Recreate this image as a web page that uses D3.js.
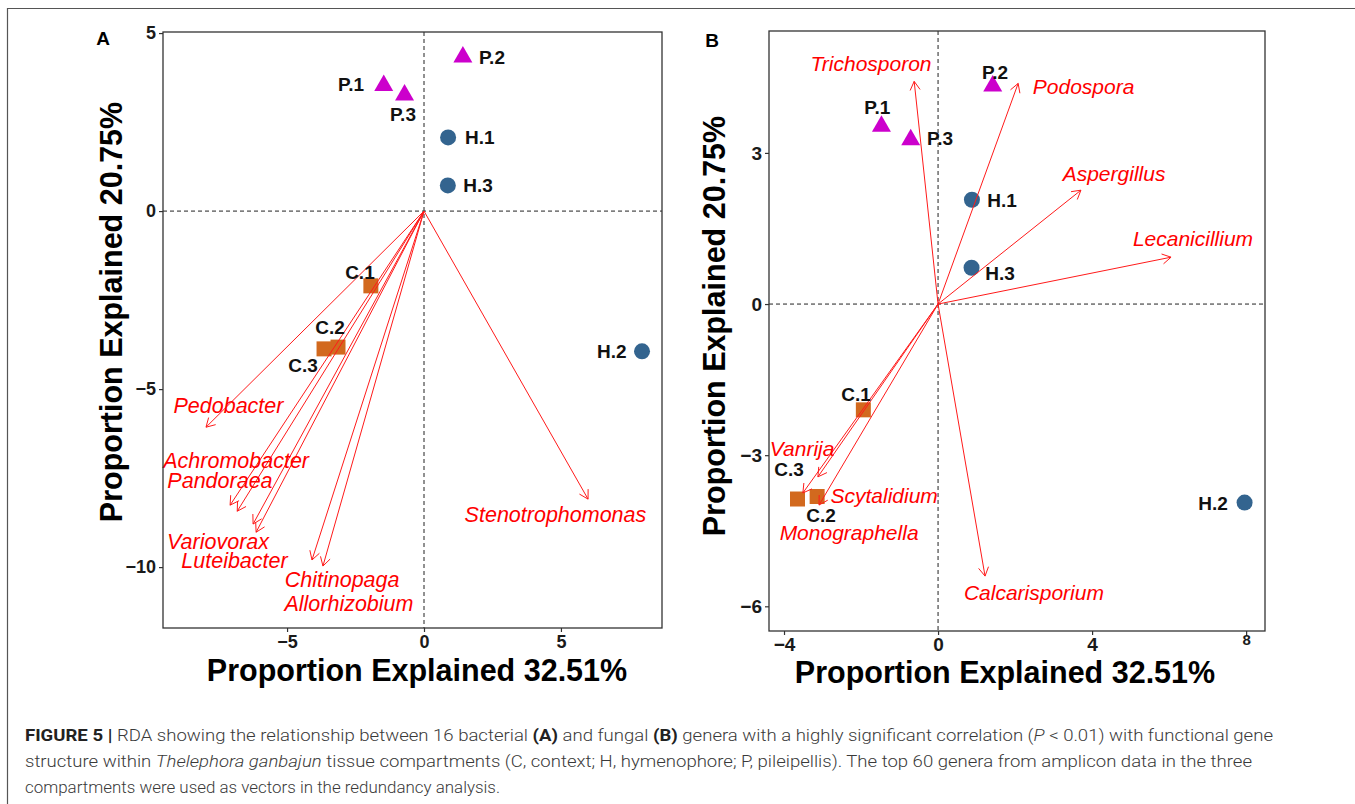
<!DOCTYPE html>
<html>
<head>
<meta charset="utf-8">
<script src="https://cdn.jsdelivr.net/npm/d3@7"></script>
<style>
  body { margin: 0; background: #fff; }
  svg { display: block; }
</style>
</head>
<body>
<svg id="fig" width="1355" height="804"></svg>
<script>
// ---- Site scores (RDA1, RDA2) for the nine tissue samples ----
const sites      = ["P.1", "P.2", "P.3", "H.1", "H.2", "H.3", "C.1", "C.2", "C.3"];
const siteGroup  = ["P", "P", "P", "H", "H", "H", "C", "C", "C"];
const siteRDA1   = [-1.47, 1.42, -0.71, 0.88, 7.96, 0.87, -1.94, -3.14, -3.65];
const siteRDA2   = [ 3.53, 4.33,  3.26, 2.07, -3.94, 0.72, -2.10, -3.82, -3.87];

// Site label anchors (data units), one set per panel
const siteLabelAx = [-2.66, 2.48, -0.77, 2.04, 6.86, 1.97, -2.34, -3.43, -4.42];
const siteLabelAy = [ 3.57, 4.33,  2.72, 2.08, -3.93, 0.73, -1.71, -3.26, -4.33];
const siteLabelBx = [-1.58, 1.48, 0.05, 1.66, 7.14, 1.61, -2.13, -3.04, -3.87];
const siteLabelBy = [ 3.91, 4.60, 3.29, 2.06, -3.95, 0.62, -1.79, -4.19, -3.27];

// ---- Bacterial genera vectors (panel A) ----
const bacteria      = ["Pedobacter", "Achromobacter", "Pandoraea", "Variovorax",
                       "Luteibacter", "Chitinopaga", "Allorhizobium", "Stenotrophomonas"];
const bacteriaRDA1  = [-7.96, -7.08, -6.82, -6.24, -6.13, -4.09, -3.69, 5.99];
const bacteriaRDA2  = [-6.07, -8.26, -8.43, -8.79, -9.02, -9.80, -9.97, -8.09];
const bacteriaLabX  = [-7.14, -6.86, -7.45, -7.52, -6.92, -2.99, -2.74, 4.80];
const bacteriaLabY  = [-5.45, -7.00, -7.56, -9.27, -9.80, -10.34, -11.01, -8.51];

// ---- Fungal genera vectors (panel B) ----
const fungi      = ["Trichosporon", "Podospora", "Aspergillus", "Lecanicillium",
                    "Calcarisporium", "Vanrija", "Scytalidium", "Monographella"];
const fungiRDA1  = [-0.62, 2.08, 3.71, 6.05, 1.22, -3.12, -3.09, -3.51];
const fungiRDA2  = [ 4.42, 4.38, 2.26, 0.93, -5.40, -3.43, -3.99, -3.75];
const fungiLabX  = [-1.74, 3.78, 4.57, 6.62, 2.49, -3.53, -1.40, -2.31];
const fungiLabY  = [ 4.78, 4.31, 2.60, 1.31, -5.73, -2.86, -3.79, -4.54];

// ---- Axis ticks ----
const ticksAx = [-5, 0, 5];
const ticksAy = [-10, -5, 0, 5];
const ticksBx = [-4, 0, 4, 8];
const ticksBy = [-6, -3, 0, 3];

const xTitle = "Proportion Explained 32.51%";
const yTitle = "Proportion Explained 20.75%";

const groupColor = { P: "#CC00CC", H: "#33648F", C: "#D2691E" };
const groupShape = { P: d3.symbolTriangle, H: d3.symbolCircle, C: d3.symbolSquare };
const groupSize  = { P: 156, H: 201, C: 225 };

const svg = d3.select("#fig");
const FONT = "'Liberation Sans', Arial, Helvetica, sans-serif";

// outer figure frame (left and top edges)
svg.append("path")
  .attr("d", "M7.5,804 V8.5 H1355")
  .attr("fill", "none").attr("stroke", "#555").attr("stroke-width", 1.2);

function drawPanel(p) {
  const g = svg.append("g");
  const x = d3.scaleLinear().domain(p.xDomain).range([p.box.left, p.box.right]);
  const y = d3.scaleLinear().domain(p.yDomain).range([p.box.bottom, p.box.top]);

  // zero reference lines
  g.append("line")
    .attr("x1", x(0)).attr("x2", x(0)).attr("y1", p.box.top).attr("y2", p.box.bottom)
    .attr("stroke", "#222").attr("stroke-width", 1).attr("stroke-dasharray", "4,3");
  g.append("line")
    .attr("x1", p.box.left).attr("x2", p.box.right).attr("y1", y(0)).attr("y2", y(0))
    .attr("stroke", "#222").attr("stroke-width", 1).attr("stroke-dasharray", "4,3");

  // axes
  const fmt = d3.format("d");
  const gx = g.append("g").attr("transform", `translate(0,${p.box.bottom})`)
    .call(d3.axisBottom(x).tickValues(p.xTicks).tickFormat(fmt).tickSize(4).tickPadding(3));
  const gy = g.append("g").attr("transform", `translate(${p.box.left},0)`)
    .call(d3.axisLeft(y).tickValues(p.yTicks).tickFormat(fmt).tickSize(4).tickPadding(3));
  [gx, gy].forEach(a => {
    a.select(".domain").remove();
    a.selectAll(".tick line").attr("stroke", "#333").attr("stroke-width", 1.2);
    a.selectAll(".tick text")
      .attr("font-family", FONT).attr("font-weight", "bold")
      .attr("font-size", p.tickFont).attr("fill", "#1a1a1a");
  });
  if (p.smallTick !== undefined) {
    gx.selectAll(".tick text").filter(d => d === p.smallTick)
      .attr("font-size", p.tickFont - 4).attr("dy", "0.45em");
  }

  // sample points
  const pts = sites.map((s, i) => ({ name: s, grp: siteGroup[i], x: siteRDA1[i], y: siteRDA2[i] }));
  g.selectAll("path.site").data(pts).join("path")
    .attr("class", "site")
    .attr("d", d => d3.symbol().type(groupShape[d.grp]).size(groupSize[d.grp])())
    .attr("transform", d => `translate(${x(d.x)},${y(d.y)})`)
    .attr("fill", d => groupColor[d.grp]);

  // genus vectors
  const vecs = p.names.map((n, i) => ({ name: n, x: p.v1[i], y: p.v2[i], lx: p.lx[i], ly: p.ly[i] }));
  const x0 = x(0), y0 = y(0);
  const head = 10, ang = Math.PI / 6;
  g.selectAll("path.vec").data(vecs).join("path")
    .attr("class", "vec")
    .attr("d", d => {
      const tx = x(d.x), ty = y(d.y);
      const th = Math.atan2(ty - y0, tx - x0);
      const a1x = tx - head * Math.cos(th - ang), a1y = ty - head * Math.sin(th - ang);
      const a2x = tx - head * Math.cos(th + ang), a2y = ty - head * Math.sin(th + ang);
      return `M${x0},${y0}L${tx},${ty}M${a1x},${a1y}L${tx},${ty}L${a2x},${a2y}`;
    })
    .attr("fill", "none").attr("stroke", "#FF1A1A").attr("stroke-width", 1);

  g.selectAll("text.vlab").data(vecs).join("text")
    .attr("class", "vlab")
    .attr("x", d => x(d.lx)).attr("y", d => y(d.ly)).attr("dy", "0.36em")
    .attr("text-anchor", "middle")
    .attr("font-family", FONT).attr("font-style", "italic")
    .attr("font-size", p.vecFont).attr("fill", "#FF0000")
    .text(d => d.name);

  // sample labels
  const labs = sites.map((s, i) => ({ name: s, x: p.slx[i], y: p.sly[i] }));
  g.selectAll("text.slab").data(labs).join("text")
    .attr("class", "slab")
    .attr("x", d => x(d.x)).attr("y", d => y(d.y)).attr("dy", "0.36em")
    .attr("text-anchor", "middle")
    .attr("font-family", FONT).attr("font-weight", "bold")
    .attr("font-size", 19).attr("fill", "#111")
    .text(d => d.name);

  // panel frame
  g.append("rect")
    .attr("x", p.box.left).attr("y", p.box.top)
    .attr("width", p.box.right - p.box.left).attr("height", p.box.bottom - p.box.top)
    .attr("fill", "none").attr("stroke", "#333").attr("stroke-width", 1.3);

  // axis titles
  g.append("text")
    .attr("x", p.xTitlePos[0]).attr("y", p.xTitlePos[1])
    .attr("text-anchor", "middle")
    .attr("font-family", FONT).attr("font-weight", "bold").attr("font-size", 30.5)
    .attr("fill", "#000").text(xTitle);
  g.append("text")
    .attr("transform", `translate(${p.yTitlePos[0]},${p.yTitlePos[1]}) rotate(-90)`)
    .attr("text-anchor", "middle")
    .attr("font-family", FONT).attr("font-weight", "bold").attr("font-size", 30.5)
    .attr("fill", "#000").text(yTitle);

  // panel letter
  g.append("text")
    .attr("x", p.letterPos[0]).attr("y", p.letterPos[1])
    .attr("text-anchor", "middle")
    .attr("font-family", FONT).attr("font-weight", "bold").attr("font-size", 19)
    .attr("fill", "#000").text(p.letter);
}

drawPanel({
  box: { left: 163, right: 662, top: 32, bottom: 628 },
  xDomain: [-9.53, 8.69], yDomain: [-11.71, 5.03],
  xTicks: ticksAx, yTicks: ticksAy, tickFont: 18,
  names: bacteria, v1: bacteriaRDA1, v2: bacteriaRDA2, lx: bacteriaLabX, ly: bacteriaLabY,
  vecFont: 21.5,
  slx: siteLabelAx, sly: siteLabelAy,
  xTitlePos: [417, 681], yTitlePos: [122, 312],
  letter: "A", letterPos: [103, 45]
});

drawPanel({
  box: { left: 769, right: 1265, top: 31, bottom: 631 },
  xDomain: [-4.39, 8.49], yDomain: [-6.49, 5.42],
  xTicks: ticksBx, yTicks: ticksBy, tickFont: 19, smallTick: 8,
  names: fungi, v1: fungiRDA1, v2: fungiRDA2, lx: fungiLabX, ly: fungiLabY,
  vecFont: 21,
  slx: siteLabelBx, sly: siteLabelBy,
  xTitlePos: [1005, 683], yTitlePos: [725, 326],
  letter: "B", letterPos: [712, 47]
});

// ---- Figure caption ----
const CAP = "Roboto, 'Liberation Sans', Arial, sans-serif";
const captionLeft = 25;
const captionLines = [
  { y: 741, right: 1273, parts: [
    { t: "FIGURE 5 | ", b: true },
    { t: "RDA showing the relationship between 16 bacterial " },
    { t: "(A)", b: true },
    { t: " and fungal " },
    { t: "(B)", b: true },
    { t: " genera with a highly significant correlation (" },
    { t: "P", i: true },
    { t: " < 0.01) with functional gene" } ] },
  { y: 767, right: 1252, parts: [
    { t: "structure within " },
    { t: "Thelephora ganbajun", i: true },
    { t: " tissue compartments (C, context; H, hymenophore; P, pileipellis). The top 60 genera from amplicon data in the three" } ] },
  { y: 793, right: 500, parts: [
    { t: "compartments were used as vectors in the redundancy analysis." } ] }
];
captionLines.forEach(line => {
  const t = svg.append("text")
    .attr("x", captionLeft).attr("y", line.y)
    .attr("font-family", CAP).attr("font-size", 17).attr("font-weight", 300)
    .attr("fill", "#3a3a3a")
    .attr("textLength", line.right - captionLeft).attr("lengthAdjust", "spacingAndGlyphs");
  line.parts.forEach(pt => {
    const s = t.append("tspan").text(pt.t);
    if (pt.b) s.attr("font-weight", "bold").attr("fill", "#222");
    if (pt.i) s.attr("font-style", "italic");
  });
});
</script>
</body>
</html>
